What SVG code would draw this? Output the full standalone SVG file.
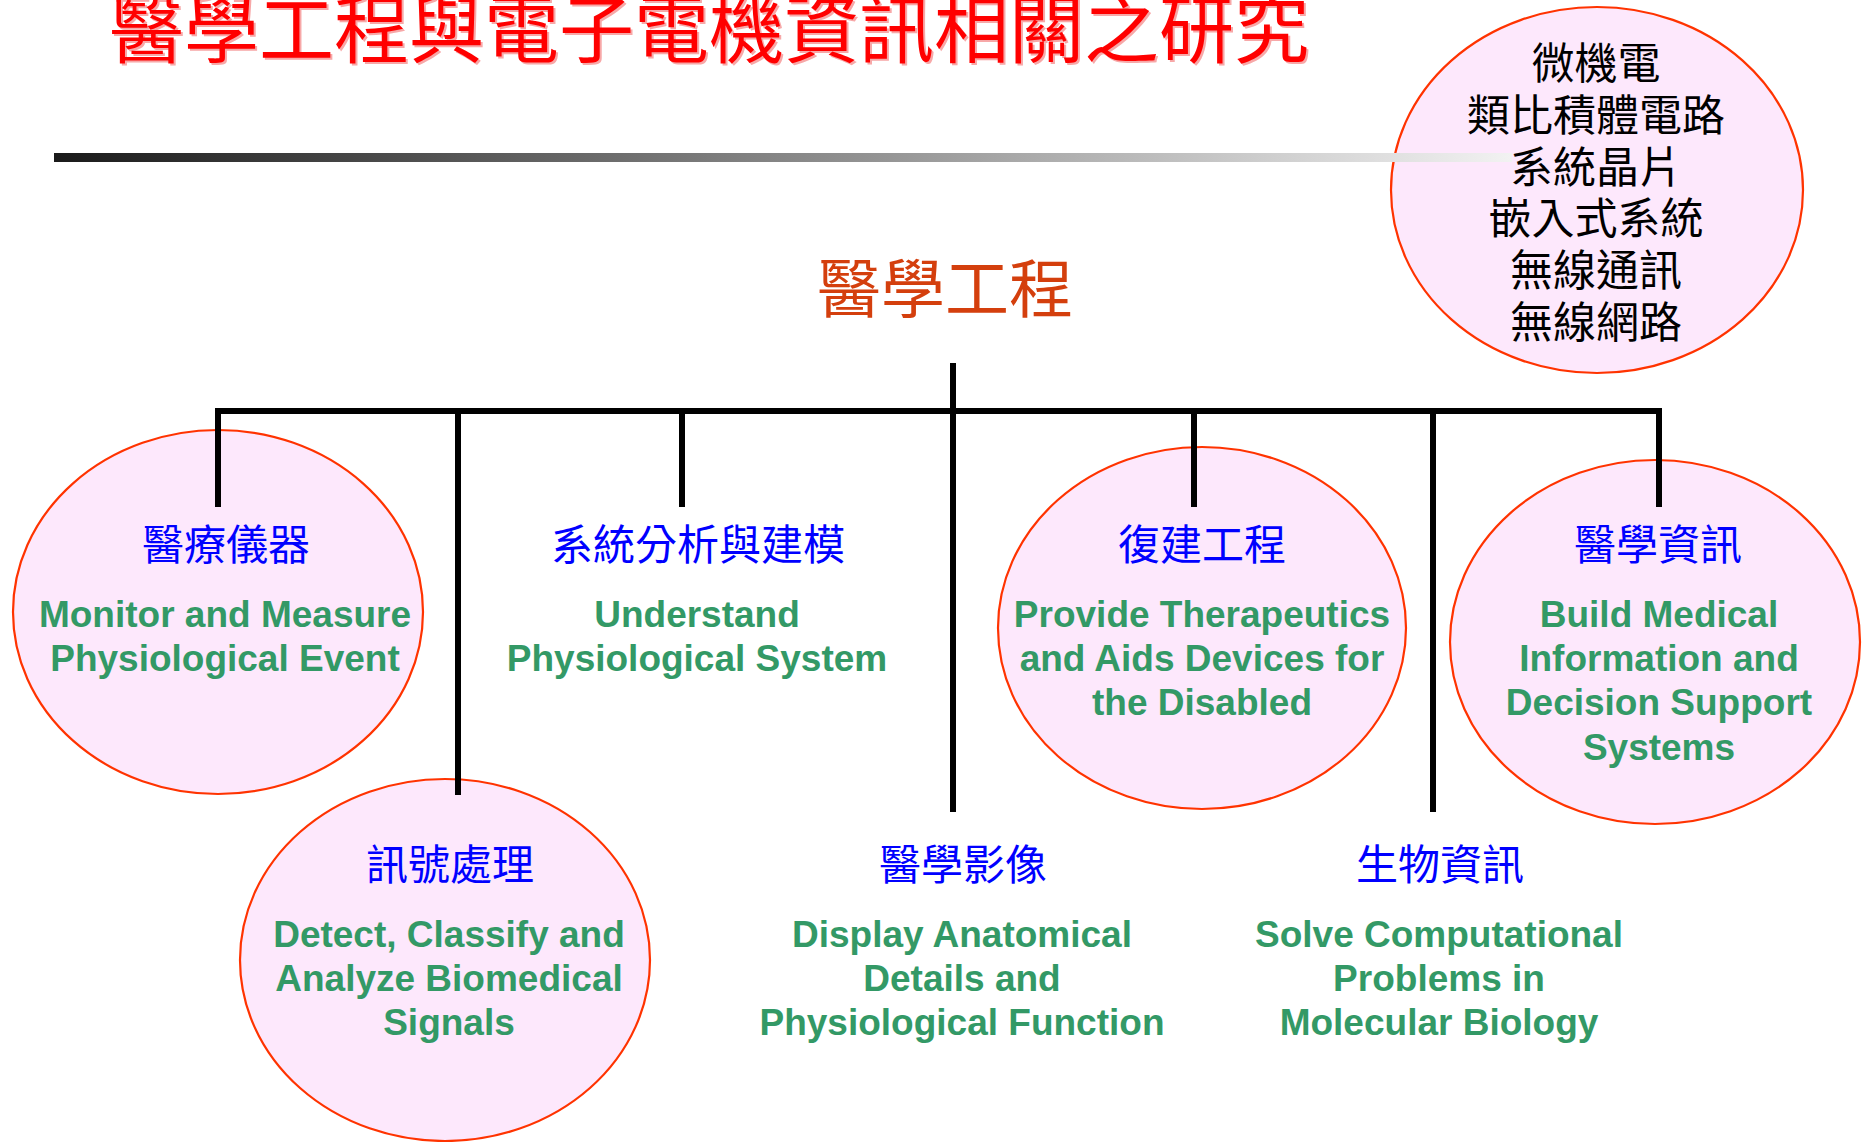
<svg xmlns="http://www.w3.org/2000/svg" width="1863" height="1142" viewBox="0 0 1863 1142">
  <defs>
    <linearGradient id="barGrad" gradientUnits="userSpaceOnUse" x1="54" y1="0" x2="1512" y2="0">
      <stop offset="0" stop-color="#1a1a1a"/>
      <stop offset="1" stop-color="#f2f2f2"/>
    </linearGradient>
  </defs>
  <style>
    .cjk { font-family: "Noto Sans CJK TC", "Noto Sans CJK SC", sans-serif; }
    .title { font-size: 75px; fill: #ff0000; text-anchor: middle; }
    .title-sh { font-size: 75px; fill: #f7a8a8; text-anchor: middle; }
    .root { font-size: 64px; fill: #d43f0d; text-anchor: middle; }
    .blue { font-size: 42px; fill: #0000ff; text-anchor: middle; }
    .tech { font-size: 43px; fill: #000000; text-anchor: middle; }
    .en { font-family: "Liberation Sans", Arial, sans-serif; font-weight: bold; font-size: 37px; fill: #339966; text-anchor: middle; }
    .bubble { fill: #fde8fc; stroke: #ff3300; stroke-width: 2.2; }
    .conn { fill: none; stroke: #000000; stroke-width: 6; stroke-linejoin: miter; stroke-linecap: butt; }
  </style>
  <rect width="1863" height="1142" fill="#ffffff"/>

  <g id="title">
    <text class="cjk title-sh" x="711" y="59">醫學工程與電子電機資訊相關之研究</text>
    <text class="cjk title" x="709" y="57">醫學工程與電子電機資訊相關之研究</text>
  </g>

  <g id="tech-bubble">
    <ellipse class="bubble" cx="1597" cy="190" rx="206" ry="183"/>
    <rect x="54" y="153" width="1458" height="9" fill="url(#barGrad)"/>
    <text class="cjk tech" x="1596" y="79">微機電</text>
    <text class="cjk tech" x="1596" y="131">類比積體電路</text>
    <text class="cjk tech" x="1596" y="183">系統晶片</text>
    <text class="cjk tech" x="1596" y="234">嵌入式系統</text>
    <text class="cjk tech" x="1596" y="286">無線通訊</text>
    <text class="cjk tech" x="1596" y="338">無線網路</text>
  </g>

  <g id="root">
    <text class="cjk root" x="945" y="312">醫學工程</text>
  </g>

  <g id="instruments">
    <ellipse class="bubble" cx="218" cy="612" rx="205" ry="182"/>
    <text class="cjk blue" x="226" y="560">醫療儀器</text>
    <text class="en" x="225" y="627">Monitor and Measure</text>
    <text class="en" x="225" y="671">Physiological Event</text>
  </g>

  <g id="signal">
    <ellipse class="bubble" cx="445" cy="960" rx="205" ry="181"/>
    <text class="cjk blue" x="450" y="880">訊號處理</text>
    <text class="en" x="449" y="947">Detect, Classify and</text>
    <text class="en" x="449" y="991">Analyze Biomedical</text>
    <text class="en" x="449" y="1035">Signals</text>
  </g>

  <g id="systems">
    <text class="cjk blue" x="698" y="560">系統分析與建模</text>
    <text class="en" x="697" y="627">Understand</text>
    <text class="en" x="697" y="671">Physiological System</text>
  </g>

  <g id="imaging">
    <text class="cjk blue" x="963" y="880">醫學影像</text>
    <text class="en" x="962" y="947">Display Anatomical</text>
    <text class="en" x="962" y="991">Details and</text>
    <text class="en" x="962" y="1035">Physiological Function</text>
  </g>

  <g id="rehab">
    <ellipse class="bubble" cx="1202" cy="628" rx="204" ry="181"/>
    <text class="cjk blue" x="1202" y="560">復建工程</text>
    <text class="en" x="1202" y="627">Provide Therapeutics</text>
    <text class="en" x="1202" y="671">and Aids Devices for</text>
    <text class="en" x="1202" y="715">the Disabled</text>
  </g>

  <g id="bioinfo">
    <text class="cjk blue" x="1440" y="880">生物資訊</text>
    <text class="en" x="1439" y="947">Solve Computational</text>
    <text class="en" x="1439" y="991">Problems in</text>
    <text class="en" x="1439" y="1035">Molecular Biology</text>
  </g>

  <g id="medinfo">
    <ellipse class="bubble" cx="1655" cy="642" rx="205" ry="182"/>
    <text class="cjk blue" x="1658" y="560">醫學資訊</text>
    <text class="en" x="1659" y="627">Build Medical</text>
    <text class="en" x="1659" y="671">Information and</text>
    <text class="en" x="1659" y="715">Decision Support</text>
    <text class="en" x="1659" y="760">Systems</text>
  </g>

  <g id="connectors">
    <path class="conn" d="M218,507 V411 H1659 V507"/>
    <path class="conn" d="M953,363 V812"/>
    <path class="conn" d="M458,411 V795"/>
    <path class="conn" d="M682,411 V507"/>
    <path class="conn" d="M1194,411 V507"/>
    <path class="conn" d="M1433,411 V812"/>
  </g>
</svg>
